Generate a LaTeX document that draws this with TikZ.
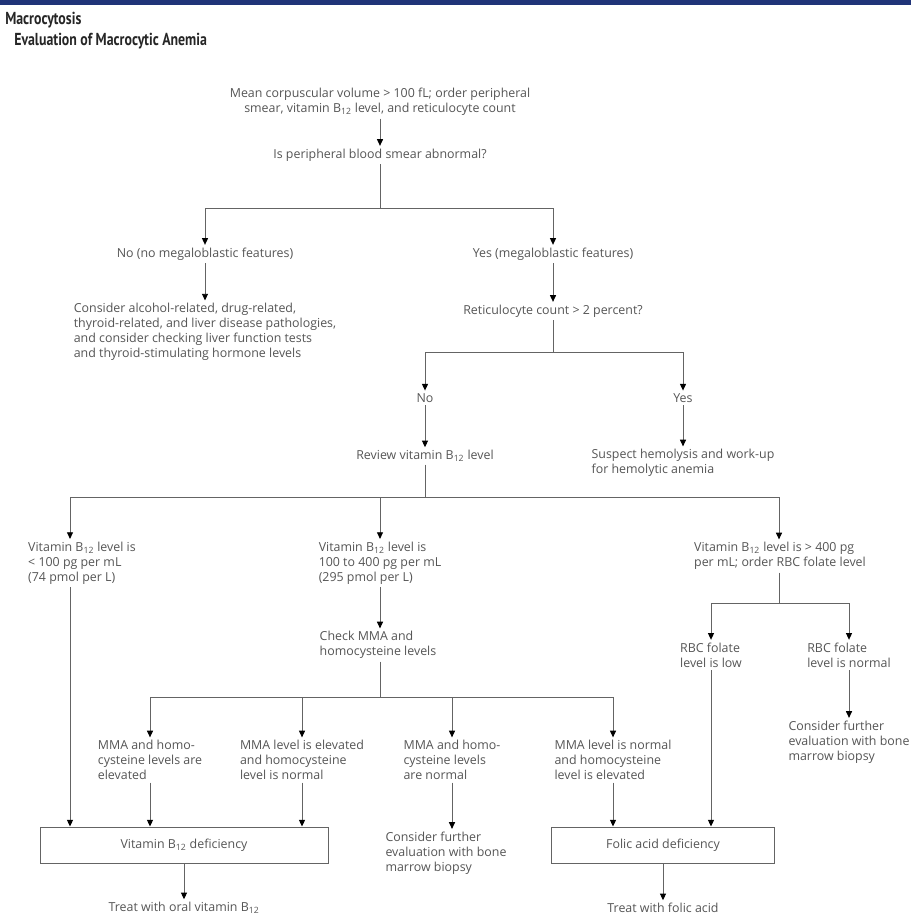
\documentclass[tikz,border=0pt]{standalone}
\usepackage{fontspec}
\setmainfont{Open Sans}
\newfontfamily\titlefont[FakeStretch=0.8]{PT Sans}
\usepackage{xcolor}
\definecolor{banner}{RGB}{32, 52, 120}
\definecolor{ink}{RGB}{85, 85, 85}
\definecolor{wire}{RGB}{100, 100, 100}
\usepackage{tikz}
\usetikzlibrary{arrows.meta,calc,positioning}

\begin{document}
\begin{tikzpicture}[x=0.75pt, y=-0.75pt,
    txt/.style={font=\fontsize{9.3pt}{11.2pt}\selectfont, text=ink, align=left, inner sep=2pt},
    title/.style={font=\titlefont\bfseries\fontsize{13pt}{15pt}\selectfont, text=black!85, inner sep=0pt},
    conn/.style={draw=wire, line width=0.7pt},
    arr/.style={conn, -{Triangle[width=4.5pt, length=5pt, color=black]}},
    box/.style={txt, align=center, draw=wire, line width=0.7pt}]
    \useasboundingbox (0,0) rectangle (911,920);

    % Banner and title
    \fill[banner] (0,0) rectangle (911,5);
    \node[title, anchor=base west] (ttl) at (5,25) {Macrocytosis};
    \node[title, anchor=base west] (sub) at (14,46) {Evaluation of Macrocytic Anemia};

    % Upper part
    \node[txt, align=center] (mcv) at (380,102) {Mean corpuscular volume > 100 fL; order peripheral\\smear, vitamin B\textsubscript{12} level, and reticulocyte count};
    \node[txt] (smear) at (380,155) {Is peripheral blood smear abnormal?};
    \coordinate (j1) at (380,208);
    \node[txt] (nomeg) at (205,254) {No (no megaloblastic features)};
    \node[txt] (yesmeg) at (553,254) {Yes (megaloblastic features)};
    \node[txt] (alcohol) at (205,332) {Consider alcohol-related, drug-related,\\thyroid-related, and liver disease pathologies,\\and consider checking liver function tests\\and thyroid-stimulating hormone levels};
    \node[txt] (retic) at (553,311) {Reticulocyte count > 2 percent?};
    \coordinate (j2) at (553,352);
    \node[txt] (rno) at (425,398) {No};
    \node[txt] (ryes) at (683,398) {Yes};
    \node[txt] (review) at (425,456) {Review vitamin B\textsubscript{12} level};
    \node[txt] (hemol) at (683,463) {Suspect hemolysis and work-up\\for hemolytic anemia};
    \coordinate (j3) at (425,497);

    % Vitamin B12 levels
    \node[txt] (blow) at (82,563) {Vitamin B\textsubscript{12} level is\\< 100 pg per mL\\(74 pmol per L)};
    \coordinate (bl) at ($(blow.north)+(-12,0)$);
    \node[txt] (bmid) at (380,563) {Vitamin B\textsubscript{12} level is\\100 to 400 pg per mL\\(295 pmol per L)};
    \node[txt] (bhigh) at (780,556) {Vitamin B\textsubscript{12} level is > 400 pg\\per mL; order RBC folate level};
    \node[txt] (mmachk) at (378,645) {Check MMA and\\homocysteine levels};
    \coordinate (j4) at (380,697);
    \coordinate (j5) at (779,603);

    % MMA and homocysteine
    \node[txt] (m1) at (150,760) {MMA and homo-\\cysteine levels are\\elevated};
    \node[txt] (m2) at (302,760) {MMA level is elevated\\and homocysteine\\level is normal};
    \node[txt] (m3) at (452,760) {MMA and homo-\\cysteine levels\\are normal};
    \node[txt] (m4) at (613,760) {MMA level is normal\\and homocysteine\\level is elevated};

    % RBC folate
    \node[txt] (rbclow) at (711,655) {RBC folate\\level is low};
    \node[txt] (rbcnorm) at (849,655) {RBC folate\\level is normal};
    \node[txt] (marrowR) at (849,742) {Consider further\\evaluation with bone\\marrow biopsy};

    % Diagnoses and treatment
    \node[txt] (marrowM) at (446,853) {Consider further\\evaluation with bone\\marrow biopsy};
    \node[box, minimum width=216pt, minimum height=27pt] (b12def) at (184,845) {Vitamin B\textsubscript{12} deficiency};
    \node[box, minimum width=167pt, minimum height=27pt] (folicdef) at (663,845) {Folic acid deficiency};
    \node[txt] (treatB) at (184,908) {Treat with oral vitamin B\textsubscript{12}};
    \node[txt] (treatF) at (663,908) {Treat with folic acid};

    % Connectors
    \draw[arr] (mcv) -- (smear);
    \draw[conn] (smear) -- (j1);
    \draw[arr] (j1) -| (nomeg);
    \draw[arr] (j1) -| (yesmeg);
    \draw[arr] (nomeg) -- (nomeg |- alcohol.north);
    \draw[arr] (yesmeg) -- (retic);
    \draw[conn] (retic) -- (j2);
    \draw[arr] (j2) -| (rno);
    \draw[arr] (j2) -| (ryes);
    \draw[arr] (rno) -- (review);
    \draw[arr] (ryes) -- (ryes |- hemol.north);
    \draw[conn] (review) -- (j3);
    \draw[arr] (j3) -| (bl);
    \draw[arr] (j3) -| (bmid);
    \draw[arr] (j3) -| (j5 |- bhigh.north);
    \draw[arr] (bmid) -- (bmid |- mmachk.north);
    \draw[conn] (j4 |- mmachk.south) -- (j4);
    \draw[arr] (j4) -| (m1);
    \draw[arr] (j4) -| (m2);
    \draw[arr] (j4) -| (m3);
    \draw[arr] (j4) -| (m4);
    \draw[conn] (j5 |- bhigh.south) -- (j5);
    \draw[arr] (j5) -| (rbclow);
    \draw[arr] (j5) -| (rbcnorm);
    \draw[arr] (rbcnorm) -- (marrowR);
    \draw[arr] (blow.south -| bl) -- (bl |- b12def.north);
    \draw[arr] (m1) -- (m1 |- b12def.north);
    \draw[arr] (m2) -- (m2 |- b12def.north);
    \draw[arr] (m3) -- (m3 |- marrowM.north);
    \draw[arr] (m4) -- (m4 |- folicdef.north);
    \draw[arr] (rbclow) -- (rbclow |- folicdef.north);
    \draw[arr] (b12def) -- (treatB);
    \draw[arr] (folicdef) -- (treatF);
\end{tikzpicture}
\end{document}
